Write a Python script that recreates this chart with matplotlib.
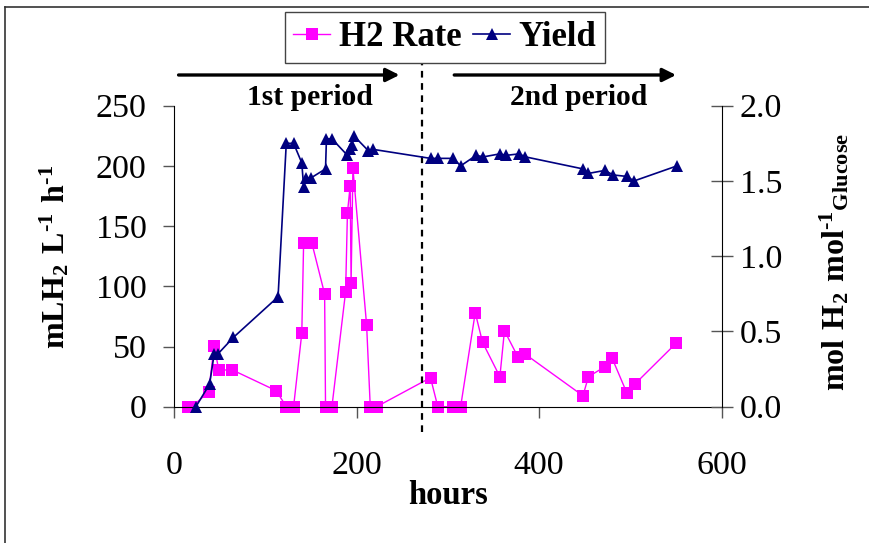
import matplotlib
matplotlib.use("Agg")
import matplotlib.pyplot as plt
from matplotlib.lines import Line2D

# H2 production rate (mL H2 / L / h) vs. time
rate_hours = [15, 20, 38, 44, 49, 64, 112, 123, 131, 140, 142, 151, 165, 166,
              173, 188, 190, 193, 194, 196, 211, 215, 222, 281, 289, 306, 314,
              330, 338, 357, 362, 377, 385, 448, 454, 472, 480, 496, 505, 550]
rate_values = [0, 0, 12.5, 50.7, 30.5, 30.5, 13.3, 0, 0, 61, 136, 136, 93.6, 0,
               0, 95.5, 161, 183.6, 103, 198, 67.9, 0, 0, 24.1, 0, 0, 0,
               78.1, 53.5, 24.9, 63.1, 41, 43.5, 9.1, 24.9, 33.2, 40.2, 11.6,
               18.9, 52.7]

# H2 yield (mol H2 / mol glucose) vs. time
yield_hours = [24, 39, 44, 48, 65, 114, 123, 131, 140, 142, 145, 150, 166, 167,
               173, 190, 193, 195, 197, 213, 218, 281, 289, 306, 314, 331, 339,
               357, 364, 378, 385, 448, 454, 472, 481, 496, 504, 551]
yield_values = [0.0, 0.15, 0.35, 0.35, 0.46, 0.73, 1.75, 1.75, 1.62, 1.46,
                1.52, 1.52, 1.58, 1.78, 1.78, 1.67, 1.71, 1.74, 1.80, 1.70,
                1.71, 1.65, 1.65, 1.65, 1.60, 1.67, 1.66, 1.68, 1.67, 1.68,
                1.66, 1.58, 1.55, 1.57, 1.54, 1.53, 1.50, 1.60]

left_ticks = [0, 50, 100, 150, 200, 250]
right_ticks = [0.0, 0.5, 1.0, 1.5, 2.0]
x_ticks = [0, 200, 400, 600]

period_split = 272          # hours, boundary between the two periods
period1_span = (5, 247)
period2_span = (307, 550)

plt.rcParams['font.family'] = ['Liberation Serif', 'DejaVu Serif']
plt.rcParams['mathtext.fontset'] = 'custom'
plt.rcParams['mathtext.rm'] = 'Liberation Serif'
plt.rcParams['mathtext.bf'] = 'Liberation Serif:bold'

W, H = 870, 543
fig = plt.figure(figsize=(W / 100, H / 100), dpi=100)
ax = fig.add_axes([174 / W, 1 - 406.7 / H, (721.7 - 174) / W, (406.7 - 105.7) / H])

# H2 rate
ax.plot(rate_hours, rate_values, color='#FF00FF', lw=1.0, marker='s',
        markersize=8.6, markeredgewidth=0, label='H2 Rate', clip_on=False)
ax.set_xlim(0, 600)
ax.set_ylim(0, 250)
ax.set_xticks(x_ticks)
ax.set_yticks(left_ticks)
ax.spines['top'].set_visible(False)
ax.spines['right'].set_visible(False)
ax.tick_params(axis='y', direction='out', length=7.7, width=1, pad=12,
               labelsize=24.5, color='#555555')
ax.tick_params(axis='x', direction='out', length=7.7, width=1, pad=24,
               labelsize=24.5, color='#555555')

# yield on secondary axis
ax2 = ax.twinx()
ax2.plot(yield_hours, yield_values, color='#000080', lw=1.2, marker='^',
         markersize=9, markeredgewidth=0, label='Yield', clip_on=False)
ax2.set_ylim(0, 2.0)
ax2.set_yticks(right_ticks)
ax2.set_yticklabels(['%.1f' % t for t in right_ticks])
ax2.spines['top'].set_visible(False)
ax2.spines['left'].set_visible(False)
ax2.spines['bottom'].set_visible(False)
ax2.tick_params(axis='y', direction='inout', length=16, width=1, pad=5,
                labelsize=24.5, color='#555555')

# period separator and arrows
ax.plot([period_split, period_split], [-21, 286], ls=(0, (3, 2.5)), lw=1.6,
        color='black', clip_on=False)
for span in (period1_span, period2_span):
    ax.annotate('', xy=(span[1], 275.5), xytext=(span[0], 275.5),
                annotation_clip=False,
                arrowprops=dict(arrowstyle='-|>', lw=2.4, color='black',
                                mutation_scale=20, shrinkA=0, shrinkB=0))
ax.text(149, 256.8, '1st period', ha='center', va='center', fontsize=21.3,
        fontweight='bold', clip_on=False)
ax.text(443.6, 256.8, '2nd period', ha='center', va='center', fontsize=21.3,
        fontweight='bold', clip_on=False)

# axis titles
fig.text(448 / W, 1 - 496 / H, 'hours', ha='center', va='center',
         fontsize=23.5, fontweight='bold')
fig.text(55 / W, 1 - 257 / H, '$\\mathbf{mLH_2\\ L^{\u2010 1}\\ h^{\u2010 1}}$',
         rotation=90, ha='center', va='center', fontsize=23)
fig.text(835 / W, 1 - 262 / H,
         '$\\mathbf{mol\\ H_2\\ mol^{\u2010 1}{}_{Glucose}}$',
         rotation=90, ha='center', va='center', fontsize=23)

# legend
handles = [ax.get_lines()[0], ax2.get_lines()[0]]
leg = fig.legend(handles, ['H2 Rate', 'Yield'], loc='center',
                 bbox_to_anchor=(444.85 / W, 1 - 37.35 / H), ncol=2,
                 fancybox=False, framealpha=1, edgecolor='#444444',
                 prop={'weight': 'bold', 'size': 25}, handlelength=1.05,
                 handletextpad=0.25, columnspacing=0.35, borderpad=0.25,
                 markerscale=1.0)
leg.get_frame().set_linewidth(1.0)

# outer frame (top and left edges visible)
fig.add_artist(Line2D([5 / W, 1], [1 - 7 / H, 1 - 7 / H], color='#333333', lw=1.2))
fig.add_artist(Line2D([5 / W, 5 / W], [0, 1 - 7 / H], color='#333333', lw=1.2))

fig.savefig('out.png', dpi=100)
